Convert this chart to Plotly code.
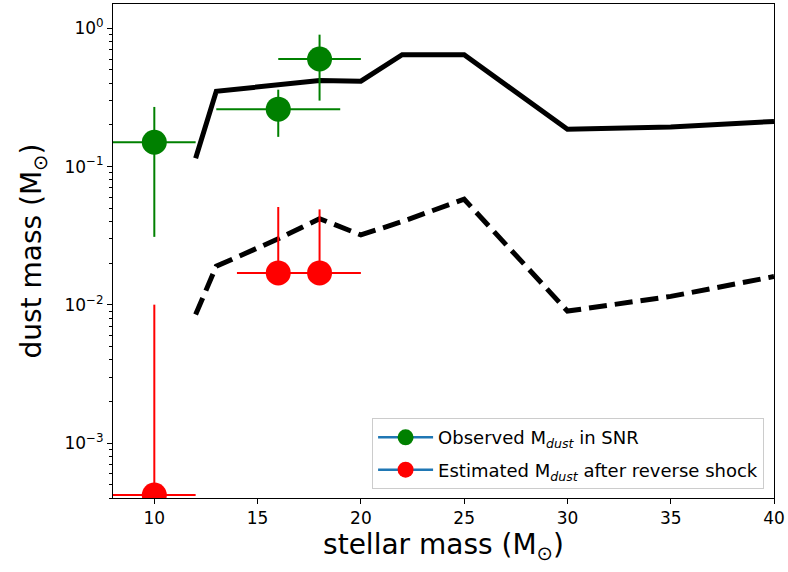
import plotly.graph_objects as go
import numpy as np

# Observed dust masses in SNR (green)
obs_x = [10, 16, 18]
obs_y = [0.15, 0.26, 0.60]
obs_xerr = [2, 3, 2]
obs_yerr_plus = [0.12, 0.10, 0.30]
obs_yerr_minus = [0.119, 0.096, 0.30]

# Estimated dust masses after reverse shock (red)
est_x = [10, 16, 18]
est_y = [0.00042, 0.017, 0.017]
est_xerr = [2, 2, 2]
est_yerr_plus = [0.0096, 0.034, 0.032]
est_yerr_minus = [0.0, 0.0, 0.0]

# Model curves (black)
model_x = [12, 13, 18, 20, 22, 25, 30, 35, 40]
model_solid = [0.115, 0.35, 0.42, 0.415, 0.645, 0.645, 0.186, 0.193, 0.212]
dash_x = [12, 13, 16, 18, 20, 22, 25, 30, 35, 40]
model_dashed = [0.0085, 0.019, 0.030, 0.042, 0.032, 0.040, 0.058, 0.0090, 0.0115, 0.0160]

x_ticks = [10, 15, 20, 25, 30, 35, 40]
y_ticks = [1e-3, 1e-2, 1e-1, 1e0]
y_ticktext = ["10<sup>−3</sup>", "10<sup>−2</sup>", "10<sup>−1</sup>", "10<sup>0</sup>"]
y_minor = [m * 10.0 ** e for e in range(-4, 1) for m in range(2, 10)]

fig = go.Figure()

fig.add_trace(go.Scatter(x=model_x, y=model_solid, mode="lines",
                         line=dict(color="black", width=5), showlegend=False))
fig.add_trace(go.Scatter(x=dash_x, y=model_dashed, mode="lines",
                         line=dict(color="black", width=5, dash="18px,8px"), showlegend=False))

fig.add_trace(go.Scatter(
    x=obs_x, y=obs_y, mode="markers", showlegend=False,
    marker=dict(color="green", size=25),
    error_x=dict(type="data", array=obs_xerr, color="green", thickness=2, width=0),
    error_y=dict(type="data", array=obs_yerr_plus, arrayminus=obs_yerr_minus,
                 color="green", thickness=2, width=0),
))
fig.add_trace(go.Scatter(
    x=est_x, y=est_y, mode="markers", showlegend=False,
    marker=dict(color="red", size=25),
    error_x=dict(type="data", array=est_xerr, color="red", thickness=2, width=0),
    error_y=dict(type="data", array=est_yerr_plus, arrayminus=est_yerr_minus,
                 color="red", thickness=2, width=0),
))

# legend entries
fig.add_trace(go.Scatter(x=[None], y=[None], mode="lines+markers", legendgroup="obs",
                         name="Observed M<sub><i>dust</i></sub> in SNR",
                         line=dict(color="#1f77b4", width=2.5),
                         marker=dict(color="green", size=25)))
fig.add_trace(go.Scatter(x=[None], y=[None], mode="lines+markers", legendgroup="est",
                         name="Estimated M<sub><i>dust</i></sub> after reverse shock",
                         line=dict(color="#1f77b4", width=2.5),
                         marker=dict(color="red", size=25)))

fig.update_layout(
    width=788, height=572,
    margin=dict(l=113, r=9, t=3, b=74),
    plot_bgcolor="white", paper_bgcolor="white",
    font=dict(family="DejaVu Sans", color="black", size=13),
    legend=dict(x=0.985, y=0.018, xanchor="right", yanchor="bottom",
                bgcolor="rgba(255,255,255,0.8)", bordercolor="#cccccc", borderwidth=1,
                font=dict(size=18), tracegroupgap=6, itemwidth=55),
)

fig.update_xaxes(
    range=[8, 40], tickvals=x_ticks, ticks="outside", ticklen=5, tickcolor="black",
    showline=True, linecolor="black", linewidth=1, mirror=True, showgrid=False,
    zeroline=False, tickfont=dict(size=17), ticklabeloverflow="allow",
    title=dict(text="stellar mass (M<sub>⊙</sub>)", font=dict(size=28), standoff=6),
)
fig.update_yaxes(
    type="log", range=[np.log10(4e-4), np.log10(1.5)],
    tickvals=y_ticks, ticktext=y_ticktext, ticks="outside", ticklen=5, tickcolor="black",
    minor=dict(tickvals=y_minor, ticks="outside", ticklen=3, tickcolor="black", showgrid=False),
    showline=True, linecolor="black", linewidth=1, mirror=True, showgrid=False,
    zeroline=False, tickfont=dict(size=17),
    title=dict(text="dust mass (M<sub>⊙</sub>)", font=dict(size=28), standoff=14),
)

fig.write_html("out.html")
